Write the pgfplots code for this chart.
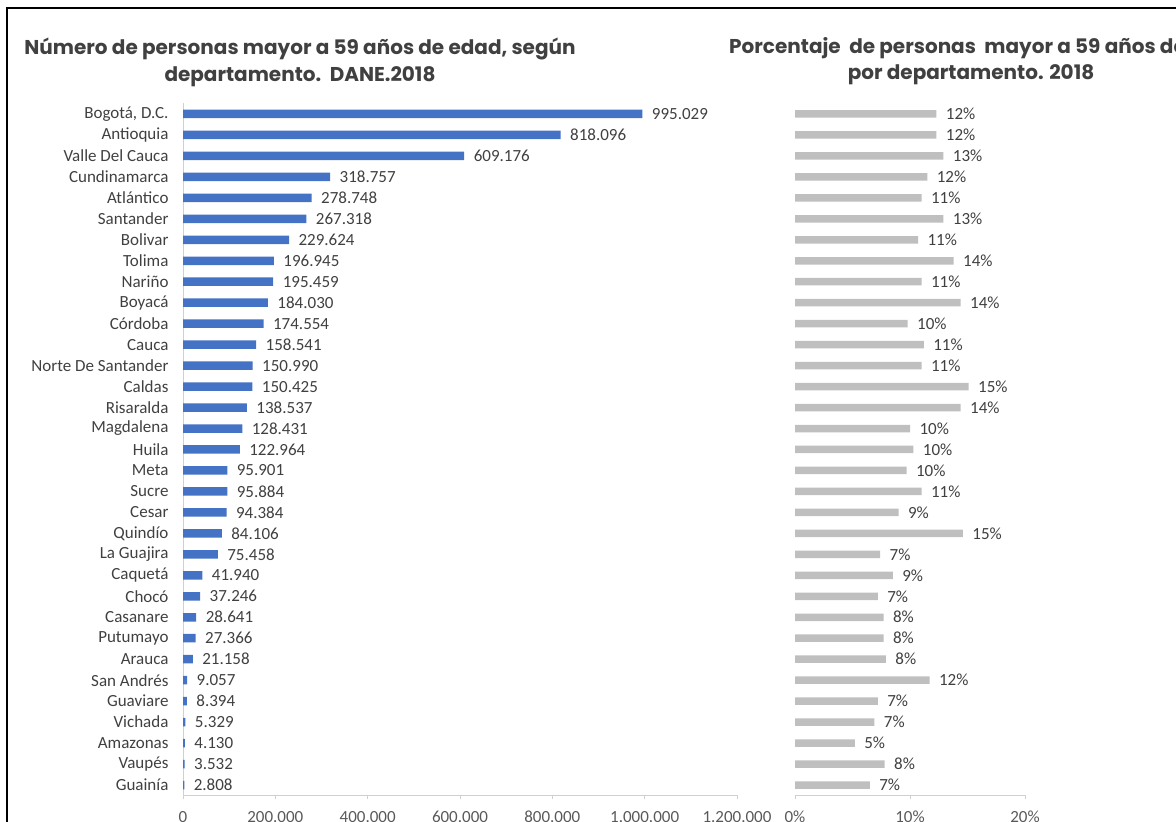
\documentclass[border=0pt]{standalone}
\usepackage{pgfplots}
\pgfplotsset{compat=1.18}
\usepackage{pgfplotstable}
\usepackage{fontspec}
\setmainfont{Carlito}
\newfontfamily\titlefont{Poppins}
\definecolor{barblue}{HTML}{4472C4}
\definecolor{bargray}{HTML}{BFBFBF}
\definecolor{txt}{HTML}{404040}
\definecolor{ticktxt}{HTML}{595959}
\definecolor{axgray}{HTML}{D0D0D0}

\pgfplotstableread{
i v lab
32 995029 995.029
31 818096 818.096
30 609176 609.176
29 318757 318.757
28 278748 278.748
27 267318 267.318
26 229624 229.624
25 196945 196.945
24 195459 195.459
23 184030 184.030
22 174554 174.554
21 158541 158.541
20 150990 150.990
19 150425 150.425
18 138537 138.537
17 128431 128.431
16 122964 122.964
15 95901 95.901
14 95884 95.884
13 94384 94.384
12 84106 84.106
11 75458 75.458
10 41940 41.940
9 37246 37.246
8 28641 28.641
7 27366 27.366
6 21158 21.158
5 9057 9.057
4 8394 8.394
3 5329 5.329
2 4130 4.130
1 3532 3.532
0 2808 2.808
}\leftdata

\pgfplotstableread{
i v lab
32 12.3 12
31 12.3 12
30 12.9 13
29 11.5 12
28 11.0 11
27 12.9 13
26 10.7 11
25 13.8 14
24 11.0 11
23 14.4 14
22 9.8 10
21 11.2 11
20 11.0 11
19 15.1 15
18 14.4 14
17 10.0 10
16 10.3 10
15 9.7 10
14 11.0 11
13 9.0 9
12 14.6 15
11 7.4 7
10 8.5 9
9 7.2 7
8 7.7 8
7 7.7 8
6 7.9 8
5 11.7 12
4 7.2 7
3 6.9 7
2 5.2 5
1 7.8 8
0 6.5 7
}\rightdata

\begin{document}
\begin{tikzpicture}
\coordinate (LA) at (183pt,26.5pt);
\coordinate (RA) at (795pt,26.5pt);
\begin{axis}[
  at={(LA)}, anchor=south west, scale only axis,
  width=554pt, height=692pt,
  xmin=0, xmax=1200000, ymin=-0.5, ymax=32.5,
  clip=false,
  axis x line*=bottom, axis y line*=left,
  axis line style={draw=axgray, line width=1pt},
  xtick={0,200000,400000,600000,800000,1000000,1200000},
  xticklabels={0,200.000,400.000,600.000,800.000,1.000.000,1.200.000},
  scaled x ticks=false,
  x tick label style={font=\fontsize{17}{20}\selectfont, color=ticktxt, yshift=-8pt},
  tick align=outside, major tick length=4pt,
  x tick style={draw=axgray, line width=1pt},
  ytick={0,...,32},
  yticklabels={Guainía,Vaupés,Amazonas,Vichada,Guaviare,San Andrés,Arauca,Putumayo,Casanare,Chocó,Caquetá,La Guajira,Quindío,Cesar,Sucre,Meta,Huila,Magdalena,Risaralda,Caldas,Norte De Santander,Cauca,Córdoba,Boyacá,Nariño,Tolima,Bolivar,Santander,Atlántico,Cundinamarca,Valle Del Cauca,Antioquia,{Bogotá, D.C.}},
  y tick label style={font=\fontsize{17}{20}\selectfont, color=txt, xshift=-7pt},
  y tick style={draw=none},
  point meta=explicit symbolic,
  nodes near coords,
  nodes near coords style={font=\fontsize{17}{20}\selectfont, color=txt, anchor=west, xshift=6pt},
]
\addplot[xbar, bar width=8.5pt, fill=barblue, draw=none] table[x=v, y=i, meta=lab] {\leftdata};
\end{axis}

\begin{axis}[
  at={(RA)}, anchor=south west, scale only axis,
  width=230pt, height=692pt,
  xmin=0, xmax=20, ymin=-0.5, ymax=32.5,
  clip=false,
  axis x line*=bottom, axis y line=none,
  axis line style={draw=axgray, line width=1pt},
  xtick={0,10,20},
  xticklabels={0\%,10\%,20\%},
  x tick label style={font=\fontsize{17}{20}\selectfont, color=ticktxt, yshift=-8pt},
  tick align=outside, major tick length=4pt,
  x tick style={draw=axgray, line width=1pt},
  ytick=\empty,
  point meta=explicit symbolic,
  nodes near coords={\pgfplotspointmeta\%},
  nodes near coords style={font=\fontsize{17}{20}\selectfont, color=txt, anchor=west, xshift=6pt},
]
\addplot[xbar, bar width=7.5pt, fill=bargray, draw=none] table[x=v, y=i, meta=lab] {\rightdata};
\end{axis}

\node[font=\titlefont\bfseries\fontsize{20}{27}\selectfont, text=txt, align=center] at (300pt,760pt)
  {Número de personas mayor a 59 años de edad, según\\departamento.\ \ DANE.2018};
\node[font=\titlefont\bfseries\fontsize{20}{27}\selectfont, text=txt, anchor=west, inner sep=0pt] at (729pt,774pt)
  {Porcentaje\ \ de personas\ \ mayor a 59 años de edad,};
\node[font=\titlefont\bfseries\fontsize{20}{27}\selectfont, text=txt, inner sep=0pt] at (971pt,747pt)
  {por departamento. 2018};

\draw[line width=2.5pt, black] (7pt,0pt) -- (7pt,814pt) -- (1176pt,814pt);

\pgfresetboundingbox
\useasboundingbox (0pt,0pt) rectangle (1176pt,822pt);
\end{tikzpicture}
\end{document}
